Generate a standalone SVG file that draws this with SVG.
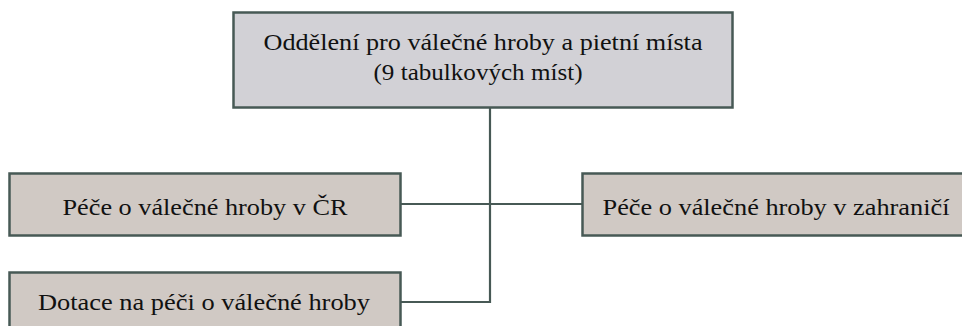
<svg xmlns="http://www.w3.org/2000/svg" width="962" height="326" viewBox="0 0 962 326">
<style>
.box{stroke:#475955;stroke-width:2.5}
.top{fill:#d2d1d6}
.sub{fill:#d0c9c4}
.t{font-family:"Liberation Serif","Times New Roman",serif;font-size:23.5px;fill:#111;text-anchor:middle}
.c{stroke:#475955;stroke-width:2.2;fill:none}
</style>
<rect width="962" height="326" fill="#ffffff"/>
<g id="connectors">
<line class="c" x1="490" y1="108" x2="490" y2="303"/>
<line class="c" x1="401" y1="204" x2="582" y2="204"/>
<line class="c" x1="401" y1="302" x2="491" y2="302"/>
</g>
<g id="node-top">
<rect class="box top" x="233.5" y="12.5" width="499" height="95"/>
<text class="t" x="483" y="50" textLength="439" lengthAdjust="spacingAndGlyphs">Oddělení pro válečné hroby a pietní místa</text>
<text class="t" x="478" y="80" textLength="209" lengthAdjust="spacingAndGlyphs">(9 tabulkových míst)</text>
</g>
<g id="node-cr">
<rect class="box sub" x="9.5" y="173.5" width="391" height="62"/>
<text class="t" x="205" y="215" textLength="285" lengthAdjust="spacingAndGlyphs">Péče o válečné hroby v ČR</text>
</g>
<g id="node-zahranici">
<rect class="box sub" x="582.5" y="173.5" width="390" height="62"/>
<text class="t" x="776" y="215" textLength="347" lengthAdjust="spacingAndGlyphs">Péče o válečné hroby v zahraničí</text>
</g>
<g id="node-dotace">
<rect class="box sub" x="9.5" y="272.5" width="391" height="70"/>
<text class="t" x="204" y="310" textLength="332" lengthAdjust="spacingAndGlyphs">Dotace na péči o válečné hroby</text>
</g>
</svg>
